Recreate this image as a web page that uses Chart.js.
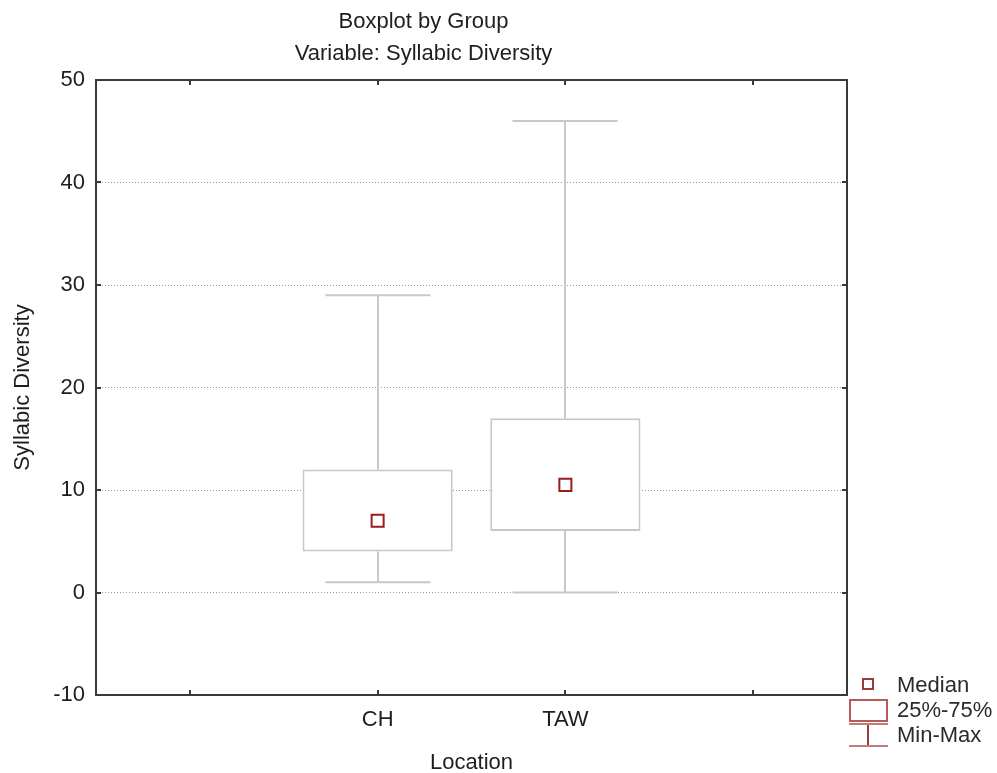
<!DOCTYPE html>
<html>
<head>
<meta charset="utf-8">
<title>Boxplot by Group</title>
<script src="https://cdn.jsdelivr.net/npm/chart.js@4"></script>
<style>
  body{margin:0;background:#fff;font-family:"Liberation Sans",Arial,sans-serif;}
  #wrap{position:relative;width:997px;height:773px;}
  #holder{position:absolute;left:0;top:0;width:862px;height:773px;}
  .lg{position:absolute;}
  .lg-text{position:absolute;left:897px;height:24px;line-height:24px;font-size:22px;color:#2a2a2a;white-space:nowrap;}
</style>
</head>
<body>
<div id="wrap">
  <div id="holder"><canvas id="box"></canvas></div>
  <!-- legend, drawn as plain html next to the plot -->
  <div class="lg" style="left:862px;top:678px;width:8px;height:8px;border:2px solid #a33636;background:#fff;"></div>
  <div class="lg" style="left:849px;top:699px;width:35px;height:19px;border:2px solid #b55a5a;background:#fff;"></div>
  <div class="lg" style="left:849px;top:723px;width:39px;height:2px;background:#c27a7a;"></div>
  <div class="lg" style="left:867px;top:725px;width:2px;height:20px;background:#a33636;"></div>
  <div class="lg" style="left:849px;top:745px;width:39px;height:2px;background:#c27a7a;"></div>
  <div class="lg-text" style="top:673px;">Median</div>
  <div class="lg-text" style="top:698px;">25%-75%</div>
  <div class="lg-text" style="top:723px;">Min-Max</div>
</div>
<script>
// --- values ---
const xLabels = ['', 'CH', 'TAW', ''];   // empty slots on both sides, like the original
const groups  = ['CH', 'TAW'];
const mins    = [1, 0];
const q1s     = [4, 6];
const medians = [7, 10.5];
const q3s     = [12, 17];
const maxs    = [29, 46];
const yMin = -10, yMax = 50, yStep = 10;

const FONT = '"Liberation Sans", Arial, sans-serif';
const FS = 22;
const boxColor = '#c8c8c8';
const axisColor = '#3a3a3a';

// put each group's value in its category slot
function slot(arr){
  return xLabels.map(l => { const i = groups.indexOf(l); return i < 0 ? null : arr[i]; });
}

// whiskers (min-max) drawn through the scales, under the boxes
const whiskers = {
  id:'whiskers',
  beforeDatasetsDraw(chart){
    const {ctx, scales:{x, y}} = chart;
    const half = (x.width / xLabels.length) * 0.28;
    ctx.save();
    ctx.strokeStyle = boxColor; ctx.lineWidth = 2;
    groups.forEach((g, i) => {
      const px = Math.round(x.getPixelForValue(xLabels.indexOf(g)));
      const pMin = y.getPixelForValue(mins[i]), pMax = y.getPixelForValue(maxs[i]);
      ctx.beginPath();
      ctx.moveTo(px, pMax); ctx.lineTo(px, y.getPixelForValue(q3s[i]));
      ctx.moveTo(px, y.getPixelForValue(q1s[i])); ctx.lineTo(px, pMin);
      ctx.moveTo(px - half, pMax); ctx.lineTo(px + half, pMax);
      ctx.moveTo(px - half, pMin); ctx.lineTo(px + half, pMin);
      ctx.stroke();
    });
    ctx.restore();
  }
};

// closed frame with inward tick marks
const frame = {
  id:'frame',
  afterDraw(chart){
    const {ctx, chartArea:a, scales:{x, y}} = chart;
    ctx.save();
    ctx.strokeStyle = axisColor; ctx.lineWidth = 2;
    ctx.strokeRect(a.left, a.top, a.right - a.left, a.bottom - a.top);
    ctx.beginPath();
    xLabels.forEach((_, i) => {
      const px = Math.round(x.getPixelForValue(i));
      ctx.moveTo(px, a.bottom); ctx.lineTo(px, a.bottom - 5);
      ctx.moveTo(px, a.top); ctx.lineTo(px, a.top + 5);
    });
    for (let v = yMin; v <= yMax; v += yStep) {
      const py = Math.round(y.getPixelForValue(v));
      ctx.moveTo(a.left, py); ctx.lineTo(a.left + 5, py);
      ctx.moveTo(a.right, py); ctx.lineTo(a.right - 5, py);
    }
    ctx.stroke();
    ctx.restore();
  }
};

new Chart(document.getElementById('box'), {
  type:'bar',
  data:{
    labels:xLabels,
    datasets:[
      {
        label:'25%-75%',
        data:xLabels.map((l, k) => { const v = slot(q1s)[k]; return v === null ? null : [v, slot(q3s)[k]]; }),
        backgroundColor:'#fff', borderColor:boxColor, borderWidth:2, borderSkipped:false,
        barPercentage:0.8, categoryPercentage:1, order:2
      },
      {
        type:'line', label:'Median', data:slot(medians), showLine:false,
        pointStyle:'rect', pointRadius:8.5, pointHoverRadius:8.5,
        pointBorderWidth:2, borderColor:'#9b1b1b', backgroundColor:'#fff', order:1
      }
    ]
  },
  options:{
    responsive:true, maintainAspectRatio:false, animation:false,
    layout:{padding:{left:0, right:15, top:0, bottom:0}},
    plugins:{
      legend:{display:false},
      tooltip:{enabled:false},
      title:{
        display:true, text:['Boxplot by Group', 'Variable: Syllabic Diversity'],
        color:'#1e1e1e', font:{family:FONT, size:FS, weight:'normal', lineHeight:32/FS},
        padding:{top:6, bottom:10}
      }
    },
    scales:{
      x:{
        offset:true,
        grid:{display:false, drawTicks:false},
        border:{display:false},
        ticks:{color:'#1e1e1e', font:{family:FONT, size:FS}, padding:12},
        title:{display:true, text:'Location', color:'#1e1e1e', font:{family:FONT, size:FS}, padding:{top:0, bottom:-3}},
        afterFit(s){ s.height = 78; }
      },
      y:{
        min:yMin, max:yMax,
        grid:{
          drawTicks:false, lineWidth:1,
          color:c => (c.tick && (c.tick.value === yMin || c.tick.value === yMax)) ? 'rgba(0,0,0,0)' : '#999'
        },
        border:{display:false, dash:[1,2]},
        ticks:{stepSize:yStep, color:'#1e1e1e', font:{family:FONT, size:FS}, padding:11},
        title:{display:true, text:'Syllabic Diversity', color:'#1e1e1e', font:{family:FONT, size:FS}, padding:{top:10, bottom:0}},
        afterFit(s){ s.width = 96; }
      }
    }
  },
  plugins:[whiskers, frame]
});
</script>
</body>
</html>
